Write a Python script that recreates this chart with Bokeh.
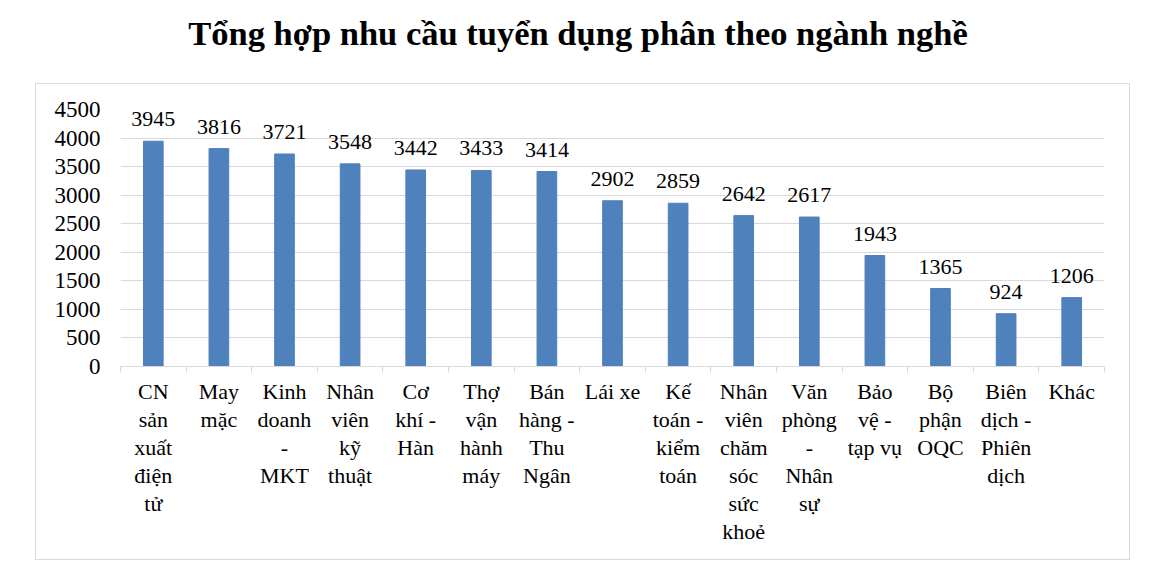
from bokeh.plotting import figure
from bokeh.models import Range1d, FixedTicker, Div, ColumnDataSource, LabelSet
from bokeh.layouts import column
from bokeh.core.properties import value
from bokeh.embed import file_html
from bokeh.resources import INLINE

title_text = "Tổng hợp nhu cầu tuyển dụng phân theo ngành nghề"
categories = [
    "CN\nsản\nxuất\nđiện\ntử",
    "May\nmặc",
    "Kinh\ndoanh\n-\nMKT",
    "Nhân\nviên\nkỹ\nthuật",
    "Cơ\nkhí -\nHàn",
    "Thợ\nvận\nhành\nmáy",
    "Bán\nhàng -\nThu\nNgân",
    "Lái xe",
    "Kế\ntoán -\nkiểm\ntoán",
    "Nhân\nviên\nchăm\nsóc\nsức\nkhoẻ",
    "Văn\nphòng\n-\nNhân\nsự",
    "Bảo\nvệ -\ntạp vụ",
    "Bộ\nphận\nOQC",
    "Biên\ndịch -\nPhiên\ndịch",
    "Khác",
]
values = [3945, 3816, 3721, 3548, 3442, 3433, 3414, 2902, 2859, 2642, 2617, 1943, 1365, 924, 1206]
y_ticks = [0, 500, 1000, 1500, 2000, 2500, 3000, 3500, 4000, 4500]

FONT = "Liberation Serif"
idx = list(range(len(categories)))
src = ColumnDataSource(dict(x=idx, v=values, lbl=[str(v) for v in values]))

p = figure(width=1095, height=477, output_backend="svg", toolbar_location=None,
           x_range=Range1d(-0.5, len(categories) - 0.5), y_range=Range1d(0, 4500),
           min_border_left=84, min_border_right=27, min_border_top=25, min_border_bottom=195)
p.margin = (0, 0, 0, 35)
p.styles = {"border": "1px solid #d9d9d9"}
p.outline_line_color = None
p.background_fill_color = "white"
p.border_fill_color = "white"

p.vbar(x="x", top="v", width=0.3, source=src, color="#4F81BD")
labels = LabelSet(x="x", y="v", text="lbl", source=src, text_align="center",
                  text_baseline="bottom", y_offset=15, text_font=value(FONT),
                  text_font_size=value("22px"), text_color="black")
p.add_layout(labels)

xa = p.xaxis[0]
xa.ticker = FixedTicker(ticks=idx, minor_ticks=[i - 0.5 for i in range(len(categories) + 1)])
xa.major_label_overrides = {i: c for i, c in zip(idx, categories)}
xa.major_tick_line_color = None
xa.major_tick_out = 0
xa.major_tick_in = 0
xa.minor_tick_out = 6
xa.minor_tick_in = 0
xa.minor_tick_line_color = "#d9d9d9"
xa.axis_line_color = "#d9d9d9"
xa.major_label_standoff = 6
xa.major_label_text_font = FONT
xa.major_label_text_font_size = "22px"
xa.major_label_text_line_height = 1.12
xa.major_label_text_color = "black"

ya = p.yaxis[0]
ya.ticker = FixedTicker(ticks=y_ticks)
ya.axis_line_color = None
ya.major_tick_line_color = None
ya.minor_tick_line_color = None
ya.major_tick_out = 0
ya.major_label_standoff = 20
ya.major_label_text_font = FONT
ya.major_label_text_font_size = "23px"
ya.major_label_text_color = "black"

p.xgrid.grid_line_color = None
p.ygrid.grid_line_color = "#d9d9d9"
p.ygrid.ticker = FixedTicker(ticks=y_ticks)

title = Div(text=f'<div style="font-family:\'{FONT}\';font-size:34.5px;font-weight:bold;'
                 f'text-align:center;width:1146px;padding-top:4px;color:black">{title_text}</div>',
            width=1146, height=73)

layout = column(title, p, spacing=0)
open("out.html", "w").write(file_html(layout, INLINE))
